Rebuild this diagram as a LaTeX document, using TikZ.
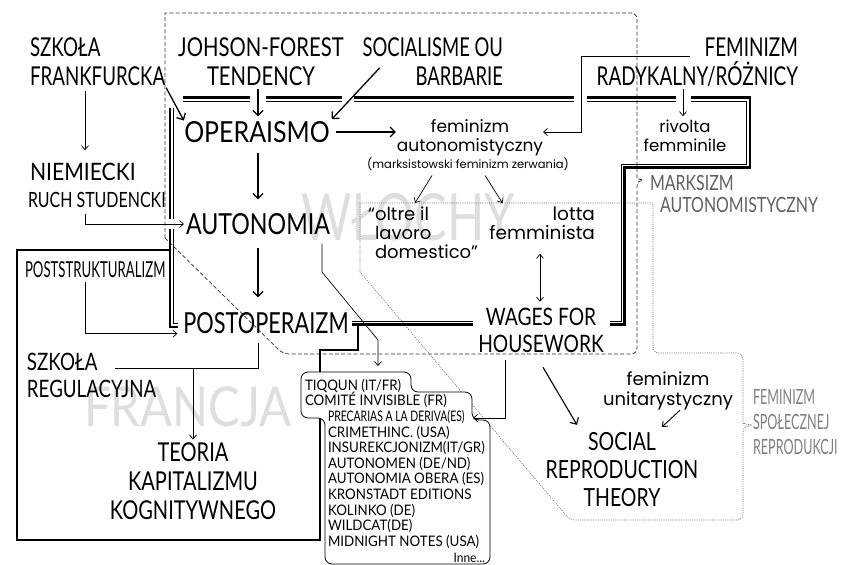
\documentclass[tikz,border=0pt]{standalone}
\usepackage{fontspec}
\newfontfamily\hf{Lato}
\newfontfamily\rf{Poppins}
\usetikzlibrary{arrows.meta,calc}
\newcommand\HF[3]{\hf\addfontfeature{FakeStretch=#1}\fontsize{#2}{#3}\selectfont}
\newcommand\RF[3]{\rf\addfontfeature{FakeStretch=#1}\fontsize{#2}{#3}\selectfont}
\tikzset{
  lbl/.style={inner sep=0pt, outer sep=0pt},
  tarr/.style={line width=0.7pt, -{Straight Barb[length=4pt,width=7pt]}},
  darr/.style={line width=0.7pt, {Straight Barb[length=4pt,width=7pt]}-{Straight Barb[length=4pt,width=7pt]}},
  marr/.style={line width=1.3pt, -{Straight Barb[length=5pt,width=10pt]}},
  tline/.style={line width=0.7pt},
  outerl/.style={line width=2.4pt},
  innerl/.style={line width=1pt},
  wmark/.style={lbl, text=black!13},
  region/.style={line width=0.7pt, black!80, dash pattern=on 4pt off 2.2pt},
  dregion/.style={line width=0.7pt, black!55, dash pattern=on 1pt off 1.2pt},
}
\begin{document}
\begin{tikzpicture}[x=1pt,y=-1pt]
\useasboundingbox (0,0) rectangle (841,565);
\fill[white] (0,0) rectangle (841,565);

% watermarks
\node[wmark, font=\HF{0.75}{65}{65}] (wl) at (408,217) {WŁOCHY};
\node[wmark, font=\HF{0.86}{55}{55}] (fr) at (188,407) {FRANCJA};

% WLOCHY region (dashed)
\draw[region] (165,238) -- (165,13) [rounded corners=6pt] -- (637,13) -- (637,173)
  [sharp corners] .. controls (637,178) and (640,180) .. (643,180)
  .. controls (640,180) and (637,182) .. (637,187)
  [rounded corners=6pt] -- (637,354) -- (283,354) [sharp corners] -- cycle;

% spoleczna reprodukcja region (dotted)
\draw[dregion] (360,272) -- (360,203) -- (653,203) [rounded corners=6pt] -- (653,353) -- (743,353) -- (743,418)
  [sharp corners] .. controls (743,422) and (747,425) .. (752,425)
  .. controls (747,425) and (743,428) .. (743,432)
  [rounded corners=6pt] -- (743,520) -- (570,520) [sharp corners] -- cycle;

% FRANCJA box
\draw[line width=1.5pt] (170,250) -- (17,250) -- (17,540) -- (320,540) -- (320,350);

% list box
\draw[line width=0.8pt, fill=white, rounded corners=7pt] (301,372) -- (411,372) -- (411,392) -- (472,392) -- (472,420) -- (490,420) -- (490,564) -- (325,564) -- (325,418) -- (301,418) -- cycle;

% marksizm autonomistyczny boundary
\draw[outerl] (183,97.5) -- (750,97.5) -- (750,167.5) -- (624.5,167.5) -- (624.5,324.5) -- (610,324.5);
\draw[innerl] (183,101) -- (746.5,101) -- (746.5,164) -- (621,164) -- (621,321) -- (610,321);
\draw[outerl] (178,327) -- (170,327) -- (170,108);
\draw[innerl] (178,323.5) -- (173.5,323.5) -- (173.5,108);
\draw[outerl] (473,324.5) -- (352,324.5);
\draw[innerl] (473,321) -- (352,321);
\draw[line width=2.2pt] (358,324.5) -- (358,350) -- (320,350) -- (320,372);
\fill[white] (250,94) rectangle (266,104);
\fill[white] (342,94) rectangle (354,104);
\fill[white] (574,94) rectangle (587,104);
\fill[white] (676,94) rectangle (691,104);
\fill[white] (166,219) rectangle (177,229);

% nodes
\node[lbl, anchor=west, align=left, font=\HF{0.72}{26}{29}] (frank) at (30,62) {SZKOŁA\\FRANKFURCKA};
\node[lbl, align=center, font=\HF{0.78}{26}{29}] (tend) at (261,62) {JOHSON-FOREST\\TENDENCY};
\node[lbl, anchor=east, align=right, font=\HF{0.71}{26}{29}] (socia) at (503,62) {SOCIALISME OU\\BARBARIE};
\node[lbl, anchor=east, align=right, font=\HF{0.73}{26}{29}] (femrad) at (798,62) {FEMINIZM\\RADYKALNY/RÓŻNICY};
\node[lbl, anchor=west, font=\HF{0.88}{24}{24}] (niem) at (30,172) {NIEMIECKI};
\node[lbl, anchor=west, font=\HF{0.76}{21}{21}] (ruch) at (28,200) {RUCH STUDENCKI};
\node[lbl, font=\HF{0.86}{29}{29}] (oper) at (257,132) {OPERAISMO};
\node[lbl, font=\HF{0.8}{29}{29}] (auto) at (258,224) {AUTONOMIA};
\node[lbl, font=\HF{0.75}{29}{29}] (post) at (266,323) {POSTOPERAIZM};
\node[lbl, align=center, font=\RF{1}{17}{19}] (femaut) at (470,138) {feminizm\\autonomistyczny};
\node[lbl, font=\RF{1}{11.5}{12}] (marks) at (468,164) {(marksistowski feminizm zerwania)};
\node[lbl, align=center, font=\RF{1}{16.5}{19}] (rivolta) at (685,136) {rivolta\\femminile};
\node[lbl, anchor=west, align=left, text=black!62, font=\HF{0.76}{21}{22}] (mlab) at (650,194) {MARKSIZM\\\hspace*{10pt}AUTONOMISTYCZNY};
\node[lbl, anchor=north west, align=left, font=\RF{1}{18}{19}] (oltre) at (375,207) {\llap{“}oltre il\\lavoro\\domestico”};
\node[lbl, anchor=north east, align=right, font=\RF{1}{18.5}{19}] (lotta) at (595,207) {lotta\\femminista};
\node[lbl, align=center, font=\HF{0.8}{24}{27}] (wages) at (541,330) {WAGES FOR\\HOUSEWORK};
\node[lbl, anchor=west, align=left, text=black!50, font=\HF{0.6}{21}{25}] (fsr) at (753,422) {FEMINIZM\\SPOŁECZNEJ\\REPRODUKCJI};
\node[lbl, align=center, font=\RF{1}{18}{20}] (unit) at (668,391) {feminizm\\unitarystyczny};
\node[lbl, align=center, font=\HF{0.78}{25}{28}] (srt) at (622,470) {SOCIAL\\REPRODUCTION\\THEORY};
\node[lbl, anchor=west, font=\HF{0.6}{22}{22}] (pstr) at (25,270) {POSTSTRUKTURALIZM};
\node[lbl, anchor=west, align=left, font=\HF{0.78}{24}{27}] (reg) at (27,375) {SZKOŁA\\REGULACYJNA};
\node[lbl, align=center, font=\HF{0.77}{26}{29}] (teoria) at (193,481) {TEORIA\\KAPITALIZMU\\KOGNITYWNEGO};
\node[lbl, anchor=north west, align=left, font=\HF{0.92}{14.5}{15.6}] (list) at (305,379) {TIQQUN (IT/FR)\\COMITÉ INVISIBLE (FR)\\\hspace*{23pt}{\addfontfeature{FakeStretch=0.72}PRECARIAS A LA DERIVA(ES)}\\\hspace*{23pt}CRIMETHINC. (USA)\\\hspace*{23pt}INSUREKCJONIZM(IT/GR)\\\hspace*{23pt}AUTONOMEN (DE/ND)\\\hspace*{23pt}AUTONOMIA OBERA (ES)\\\hspace*{23pt}KRONSTADT EDITIONS\\\hspace*{23pt}KOLINKO (DE)\\\hspace*{23pt}WILDCAT(DE)\\\hspace*{23pt}MIDNIGHT NOTES (USA)};
\node[lbl, anchor=base east, font=\HF{0.92}{13}{14}] (inne) at (485,562) {Inne...};

% helper coordinates
\coordinate (fr1) at (690,56);
\coordinate (fr2) at (581,132);
\coordinate (a1) at (322,272);
\coordinate (a2) at (378,340);
\coordinate (lb) at (378,372);
\coordinate (j1) at (193,368);
\coordinate (rg) at (115,368);
\coordinate (pr) at (473,418);

% connectors
\draw[tarr, shorten <=5pt, shorten >=13pt] (85,0 |- frank.south) -- (85,0 |- niem.north);
\draw[marr, shorten <=2pt, shorten >=1pt] (frank.south east) -- (oper.north west);
\draw[marr, shorten <=3pt, shorten >=5pt] (258,0 |- tend.south) -- (258,0 |- oper.north);
\draw[marr, shorten >=3pt] ($(socia.south west)+(17,-18)$) -- (oper.north east);
\draw[marr, shorten <=6pt, shorten >=1pt] (oper.east) -- (femaut.west |- oper.east);
\draw[tarr] (fr1) -| (fr2) -- (femaut.east |- fr2);
\draw[tarr, shorten <=3pt, shorten >=4pt] (683,0 |- femrad.south) -- (683,0 |- rivolta.north);
\draw[marr, shorten <=10pt, shorten >=14pt] (258,0 |- oper.south) -- (258,0 |- auto.north);
\draw[marr, shorten <=13pt, shorten >=15pt] (258,0 |- auto.south) -- (258,0 |- post.north);
\draw[tarr, shorten >=2pt] ($(85,0 |- ruch.south)+(0,6)$) |- (auto.west);
\draw[tarr, shorten >=6pt] ($(85,0 |- pstr.south)+(0,4)$) |- (post.south west);
\draw[tarr, shorten <=9pt, shorten >=6pt] (322,0 |- auto.south) -- (a1) -- (a2) -- (lb);
\draw[tline, shorten <=9pt] (258,0 |- post.south) |- (rg);
\draw[tarr, shorten >=3pt] (j1) -- (193,0 |- teoria.north);
\draw[tarr] ($(marks.south)+(-36,5)$) -- ($(oltre.north west)+(40,-4)$);
\draw[tarr] ($(marks.south)+(17,5)$) -- ($(lotta.north west)+(13,-4)$);
\draw[darr, shorten <=14pt, shorten >=6pt] (540,0 |- lotta.south) -- (540,0 |- wages.north);
\draw[tarr, shorten <=8pt] (505,0 |- wages.south) |- (pr);
\draw[marr, line width=1.1pt] ($(wages.south)+(2,15)$) -- ($(srt.north)+(-45,-8)$);
\draw[tarr, line width=0.9pt] ($(unit.south)+(12,0)$) -- ($(srt.north)+(40,-6)$);
\end{tikzpicture}
\end{document}
